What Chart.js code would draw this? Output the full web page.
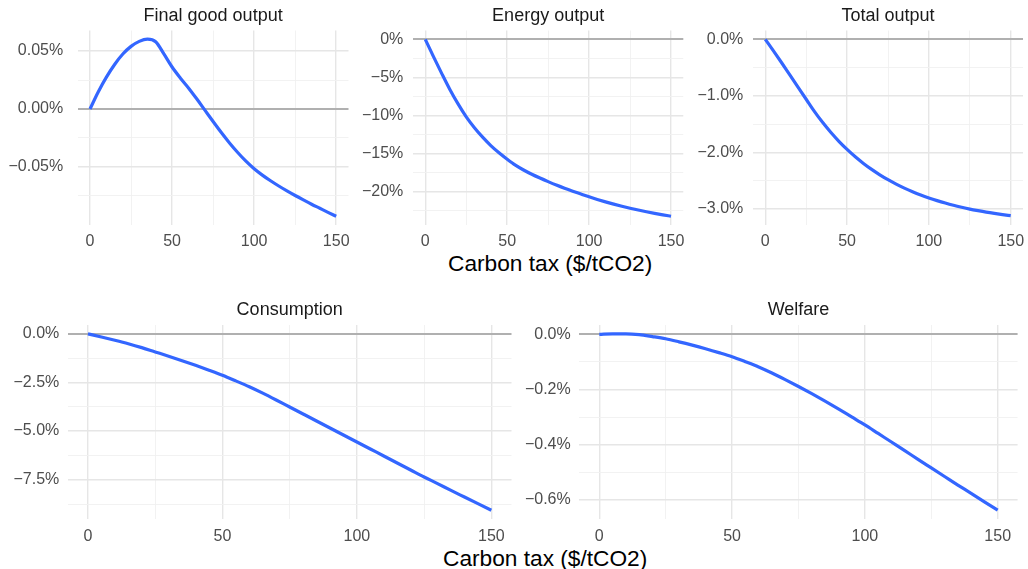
<!DOCTYPE html>
<html>
<head>
<meta charset="utf-8">
<title>Carbon tax effects</title>
<script src="https://cdn.jsdelivr.net/npm/chart.js@4.4.1/dist/chart.umd.min.js"></script>
<style>
  html, body { margin: 0; padding: 0; background: #fff; }
  body { width: 1028px; height: 569px; position: relative; overflow: hidden;
         font-family: "Liberation Sans", Arial, Helvetica, sans-serif; }
  canvas { position: absolute; display: block; }
  .xlab { position: absolute; font-size: 22.7px; line-height: 26px; color: #000; white-space: nowrap; }
</style>
</head>
<body>
<div class="xlab" style="left:448px; top:250px;">Carbon tax ($/tCO2)</div>
<div class="xlab" style="left:443px; top:545px;">Carbon tax ($/tCO2)</div>
<script>
// carbon tax levels ($/tCO2) and the % change of each variable
const taxLevels = [0, 5, 10, 15, 20, 25, 30, 35, 40, 45, 50, 55, 60, 65, 70, 75,
  80, 85, 90, 95, 100, 105, 110, 115, 120, 125, 130, 135, 140, 145, 150];

const finalGoodOutput = [0, 0.0147, 0.0275, 0.0384, 0.0474, 0.0540, 0.0583, 0.0602, 0.0580, 0.0475,
  0.0362, 0.0268, 0.0182, 0.0088, -0.0010, -0.0108, -0.0203, -0.0293, -0.0375, -0.0450,
  -0.0515, -0.0570, -0.0619, -0.0664, -0.0706, -0.0746, -0.0784, -0.0821, -0.0856, -0.0891, -0.0925];

const energyOutput = [0, -2.27, -4.48, -6.6, -8.5, -10.2, -11.63, -12.88, -13.98, -14.93,
  -15.78, -16.56, -17.2, -17.76, -18.26, -18.73, -19.18, -19.6, -19.99, -20.36,
  -20.73, -21.07, -21.39, -21.69, -21.97, -22.23, -22.47, -22.69, -22.9, -23.1, -23.28];

const totalOutput = [0, -0.205, -0.415, -0.63, -0.845, -1.06, -1.275, -1.469, -1.645, -1.804,
  -1.948, -2.078, -2.195, -2.301, -2.397, -2.484, -2.562, -2.633, -2.697, -2.755,
  -2.807, -2.854, -2.897, -2.936, -2.971, -3.003, -3.031, -3.057, -3.080, -3.101, -3.12];

const consumption = [0, -0.16, -0.33, -0.51, -0.71, -0.93, -1.15, -1.38, -1.62, -1.87,
  -2.13, -2.42, -2.72, -3.05, -3.40, -3.76, -4.12, -4.48, -4.84, -5.20,
  -5.56, -5.92, -6.28, -6.64, -7.00, -7.36, -7.70, -8.05, -8.39, -8.73, -9.07];

const welfare = [0, 0.002, 0.002, -0.001, -0.008, -0.016, -0.027, -0.039, -0.052, -0.066,
  -0.081, -0.099, -0.118, -0.140, -0.164, -0.189, -0.215, -0.242, -0.270, -0.299,
  -0.328, -0.359, -0.390, -0.421, -0.453, -0.484, -0.515, -0.546, -0.576, -0.607, -0.637];

// labelled ticks
const xMajorTicks = [0, 50, 100, 150];
const finalGoodTicks = [0.05, 0, -0.05];
const energyTicks = [0, -5, -10, -15, -20];
const totalTicks = [0, -1, -2, -3];
const consumptionTicks = [0, -2.5, -5, -7.5];
const welfareTicks = [0, -0.2, -0.4, -0.6];

const FONT = '"Liberation Sans", Arial, Helvetica, sans-serif';
const LINE_BLUE = '#3366FF';

function isIn(list, v) {
  return list.some(t => Math.abs(t - v) < 1e-9);
}

function pct(v, digits) {
  if (Math.abs(v) < 1e-12) return (0).toFixed(digits) + '%';
  return (v < 0 ? '\u2212' : '') + Math.abs(v).toFixed(digits) + '%';
}

// box = plot area [left, top, right, bottom] in page pixels
const panels = [
  { title: 'Final good output', values: finalGoodOutput, yTicks: finalGoodTicks, step: 0.025, digits: 2,
    yMin: -0.0996, yMax: 0.0677, box: [77.7, 30.5, 348.5, 224.5], titleY: 16.5, gap: 14.5 },
  { title: 'Energy output', values: energyOutput, yTicks: energyTicks, step: 2.5, digits: 0,
    yMin: -24.37, yMax: 1.16, box: [413, 30.5, 683.3, 224.5], titleY: 16.5, gap: 9.7 },
  { title: 'Total output', values: totalOutput, yTicks: totalTicks, step: 0.5, digits: 1,
    yMin: -3.276, yMax: 0.156, box: [753, 30.5, 1023, 224.5], titleY: 16.5, gap: 9.7 },
  { title: 'Consumption', values: consumption, yTicks: consumptionTicks, step: 1.25, digits: 1,
    yMin: -9.52, yMax: 0.4535, box: [67.8, 325, 511.5, 519], titleY: 310.5, gap: 8.5 },
  { title: 'Welfare', values: welfare, yTicks: welfareTicks, step: 0.1, digits: 1,
    yMin: -0.669, yMax: 0.034, box: [579.4, 325, 1017.6, 519], titleY: 310.5, gap: 8.7 }
];

const TITLE_SIZE = 18;
const TITLE_LH = TITLE_SIZE * 1.2;

panels.forEach(p => {
  const [L, T, R, B] = p.box;
  const left = Math.round(L - 80);
  const axisW = L - left;
  const top = Math.floor(p.titleY - TITLE_LH / 2);
  const titleTop = p.titleY - TITLE_LH / 2 - top;
  const titleBottom = T - top - TITLE_LH - titleTop;
  const width = Math.ceil(axisW + (R - L) + 20);
  const height = Math.ceil(B - top + 36);
  const xAxisH = height - (B - top);

  const canvas = document.createElement('canvas');
  canvas.width = width;
  canvas.height = height;
  canvas.style.left = left + 'px';
  canvas.style.top = top + 'px';
  canvas.style.width = width + 'px';
  canvas.style.height = height + 'px';
  document.body.appendChild(canvas);

  const yMajor = v => isIn(p.yTicks, v);
  const xMajor = v => isIn(xMajorTicks, v);

  new Chart(canvas.getContext('2d'), {
    type: 'line',
    data: {
      datasets: [{
        data: taxLevels.map((t, i) => ({ x: t, y: p.values[i] })),
        borderColor: LINE_BLUE,
        borderWidth: 3.2,
        pointRadius: 0,
        cubicInterpolationMode: 'monotone',
        fill: false
      }]
    },
    options: {
      responsive: false,
      animation: false,
      devicePixelRatio: 1,
      layout: { padding: { left: 0, top: 0, bottom: 0, right: width - axisW - (R - L) } },
      plugins: {
        legend: { display: false },
        tooltip: { enabled: false },
        title: {
          display: true,
          text: p.title,
          fullSize: false,
          color: '#1a1a1a',
          font: { family: FONT, size: TITLE_SIZE, weight: 'normal', lineHeight: 1.2 },
          padding: { top: titleTop, bottom: titleBottom }
        }
      },
      scales: {
        x: {
          type: 'linear',
          min: -7.5,
          max: 157.5,
          afterFit: s => { s.height = xAxisH; },
          border: { display: false },
          grid: {
            drawTicks: false,
            color: ctx => ctx.tick && xMajor(ctx.tick.value) ? '#e6e6e6' : '#f1f1f1',
            lineWidth: ctx => ctx.tick && xMajor(ctx.tick.value) ? 1.4 : 0.9
          },
          ticks: {
            stepSize: 25,
            includeBounds: false,
            autoSkip: false,
            maxRotation: 0,
            padding: 7.5,
            color: '#4d4d4d',
            font: { family: FONT, size: 16 },
            callback: v => xMajor(v) ? String(v) : ''
          }
        },
        y: {
          type: 'linear',
          min: p.yMin,
          max: p.yMax,
          afterFit: s => { s.width = axisW; },
          border: { display: false },
          grid: {
            drawTicks: false,
            color: ctx => {
              if (!ctx.tick) return 'transparent';
              if (Math.abs(ctx.tick.value) < 1e-12) return '#b0b0b0';
              return yMajor(ctx.tick.value) ? '#e6e6e6' : '#f1f1f1';
            },
            lineWidth: ctx => {
              if (!ctx.tick) return 0;
              if (Math.abs(ctx.tick.value) < 1e-12) return 2;
              return yMajor(ctx.tick.value) ? 1.4 : 0.9;
            }
          },
          ticks: {
            stepSize: p.step,
            includeBounds: false,
            autoSkip: false,
            padding: p.gap,
            color: '#4d4d4d',
            font: { family: FONT, size: 16 },
            callback: v => yMajor(v) ? pct(v, p.digits) : ''
          }
        }
      }
    }
  });
});
</script>
</body>
</html>
